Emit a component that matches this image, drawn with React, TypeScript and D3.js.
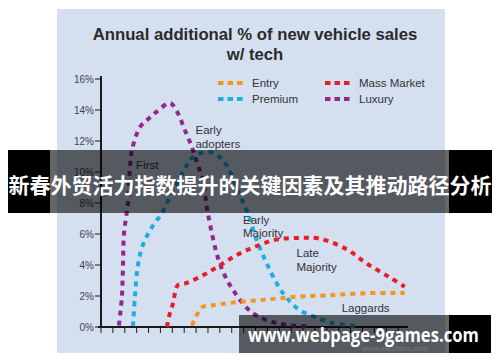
import React from 'react';
import * as d3 from 'd3';

// values (x = period index, y = % of new vehicle sales)
const luxuryX = [1.51, 1.76, 1.85, 1.93, 2.27, 2.44, 2.6, 3.28, 3.95, 4.7, 5.8, 6.39, 7.06, 7.65, 8.07, 8.57, 9.0, 10.0, 11.1, 12.77, 14.8, 16.7, 17.56];
const luxuryY = [0.1, 2, 4, 6, 8, 10.3, 11.4, 12.9, 13.4, 13.9, 14.45, 13.9, 12.7, 11.6, 10.6, 9.5, 7.3, 4.1, 2.4, 0.9, 0.25, 0.06, 0.05];

const premiumX = [2.69, 2.86, 3.11, 3.53, 4.29, 5.13, 5.8, 7.06, 7.65, 8.9, 9.75, 10.6, 11.5, 12.35, 13.1, 13.95, 14.8, 15.6, 16.7, 18.15, 19.5, 21.5];
const premiumY = [0.05, 2, 4, 5.3, 6.45, 7.35, 8.4, 10.2, 10.9, 11.3, 11.1, 10.4, 8.8, 7.35, 5.6, 4.1, 2.8, 1.9, 1.1, 0.6, 0.25, 0.06];

const massX = [5.55, 5.8, 6.05, 6.2, 6.47, 7.23, 8.74, 10.25, 11.7, 13.36, 14.8, 16.7, 18.4, 20.7, 22.35, 24.3, 25.55];
const massY = [0, 0.9, 1.5, 2.1, 2.7, 2.85, 3.4, 4.1, 4.75, 5.3, 5.65, 5.75, 5.7, 5.0, 4.1, 3.2, 2.6];

const entryX = [7.65, 8.15, 8.57, 9.41, 10.84, 13.6, 16.47, 19.24, 22.35, 25.55];
const entryY = [0.1, 0.9, 1.3, 1.4, 1.55, 1.75, 1.95, 2.05, 2.18, 2.2];

const yTicks = [0, 2, 4, 6, 8, 10, 12, 14, 16];
const xTicks = d3.range(0, 26);

const seriesNames = ['Entry', 'Premium', 'Mass Market', 'Luxury'];
const seriesColors = ['#f7941d', '#1caee4', '#e61e2a', '#93278f'];

const stageLabels = [
  { lines: ['First'], x: 2.95, y: 10.2 },
  { lines: ['Early', 'adopters'], x: 7.95, y: 12.45 },
  { lines: ['Early', 'Majority'], x: 11.95, y: 6.65 },
  { lines: ['Late', 'Majority'], x: 16.45, y: 4.5 },
  { lines: ['Laggards'], x: 20.25, y: 0.95 },
];

const FONT = '"Liberation Sans", Arial, Helvetica, sans-serif';

export default function App() {
  const x = d3.scaleLinear().domain([0, 26]).range([101, 410]);
  const y = d3.scaleLinear().domain([0, 16]).range([327, 79]);

  const line = d3.line<[number, number]>()
    .x(d => x(d[0]))
    .y(d => y(d[1]))
    .curve(d3.curveCatmullRom.alpha(0.5));

  const series = [
    { name: 'Luxury', xs: luxuryX, ys: luxuryY, color: seriesColors[3] },
    { name: 'Premium', xs: premiumX, ys: premiumY, color: seriesColors[1] },
    { name: 'Mass Market', xs: massX, ys: massY, color: seriesColors[2] },
    { name: 'Entry', xs: entryX, ys: entryY, color: seriesColors[0] },
  ];

  const legendPos = [
    { lx: 218, ly: 83 },
    { lx: 218, ly: 99 },
    { lx: 325, ly: 83 },
    { lx: 325, ly: 99 },
  ];

  return (
    <svg width={500} height={362} style={{ position: 'absolute', left: 0, top: 0, fontFamily: FONT }}>
      <rect x={0} y={0} width={500} height={362} fill="#ffffff" />
      {/* chart panel */}
      <rect x={57} y={9} width={388} height={344} fill="#d4dff0" />

      {/* title */}
      <text x={255} y={40} textAnchor="middle" fontSize={16.7} fontWeight="bold" fill="#2b2b2b">
        Annual additional % of new vehicle sales
      </text>
      <text x={255} y={60} textAnchor="middle" fontSize={16.7} fontWeight="bold" fill="#2b2b2b">
        w/ tech
      </text>

      {/* legend */}
      {seriesNames.map((n, i) => (
        <g key={n}>
          <line x1={legendPos[i].lx} x2={legendPos[i].lx + 25} y1={legendPos[i].ly} y2={legendPos[i].ly}
            stroke={seriesColors[i]} strokeWidth={4} strokeDasharray="5.5,4" />
          <text x={legendPos[i].lx + 34} y={legendPos[i].ly + 4} fontSize={11.5} fill="#333">{n}</text>
        </g>
      ))}

      {/* axes */}
      <line x1={101} x2={101} y1={76} y2={328} stroke="#1a1a1a" strokeWidth={2} />
      <line x1={98} x2={408} y1={327} y2={327} stroke="#1a1a1a" strokeWidth={2} />
      {yTicks.map(t => (
        <g key={t}>
          <line x1={95} x2={101} y1={y(t)} y2={y(t)} stroke="#1a1a1a" strokeWidth={1} />
          <text x={94} y={y(t) + 3.5} textAnchor="end" fontSize={10} fill="#444">{t}%</text>
        </g>
      ))}
      {xTicks.map(t => (
        <line key={t} x1={x(t)} x2={x(t)} y1={327} y2={333} stroke="#1a1a1a" strokeWidth={1} />
      ))}

      {/* series */}
      {series.map(s => (
        <path key={s.name}
          d={line(s.xs.map((v, i) => [v, s.ys[i]] as [number, number])) || ''}
          fill="none" stroke={s.color} strokeWidth={4} strokeDasharray="5,5" />
      ))}

      {/* adoption stage labels */}
      {stageLabels.map((l, i) => (
        <text key={i} x={x(l.x)} y={y(l.y)} fontSize={11.5} fill="#333">
          {l.lines.map((t, j) => (
            <tspan key={j} x={x(l.x)} dy={j === 0 ? 0 : 13.5}>{t}</tspan>
          ))}
        </text>
      ))}

      {/* overlay banner */}
      <rect x={8} y={150} width={42} height={63} fill="#000" />
      <rect x={50} y={150} width={399} height={63} fill="#000" fillOpacity={0.6} />
      <rect x={449} y={150} width={43} height={63} fill="#000" />
      <text x={250} y={184} textAnchor="middle" dominantBaseline="central" fontSize={21} fontWeight="bold"
        fill="#fff" fontFamily='"Noto Sans CJK SC", sans-serif'>
        新春外贸活力指数提升的关键因素及其推动路径分析
      </text>

      {/* bottom watermark */}
      <rect x={239} y={315} width={210} height={38} fill="#000" fillOpacity={0.6} />
      <rect x={449} y={315} width={42} height={38} fill="#000" />
      <text x={395} y={351} textAnchor="middle" fontSize={8} fill="#ffffff" fillOpacity={0.2}>www.elecfans.com</text>
      <text x={248} y={342} fontSize={19} fontWeight="bold" fill="#fff" textLength={231} lengthAdjust="spacingAndGlyphs"
        fontFamily='"Open Sans", "DejaVu Sans", sans-serif'>
        www.webpage-9games.com
      </text>
    </svg>
  );
}
